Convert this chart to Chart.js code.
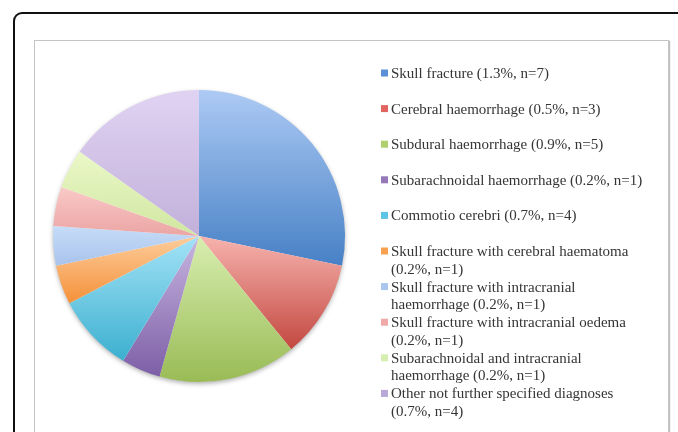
<!DOCTYPE html>
<html>
<head>
<meta charset="utf-8">
<script src="https://cdn.jsdelivr.net/npm/chart.js@4.4.1/dist/chart.umd.min.js"></script>
<style>
    html, body { margin: 0; padding: 0; background: #fff; }
    body { width: 678px; height: 432px; overflow: hidden; position: relative; }
    #frame { position: absolute; left: 13px; top: 12px; width: 700px; height: 460px; border: 2px solid #111; border-radius: 9px; }
    #plot { position: absolute; left: 34px; top: 40px; width: 633px; height: 440px; border: 1px solid #c4c4c4; box-shadow: 1px 1px 1px rgba(0,0,0,0.25); }
    #wrap { position: absolute; left: 0; top: 0; width: 678px; height: 432px; }
</style>
</head>
<body>
<div id="frame"></div>
<div id="plot"></div>
<div id="wrap"><canvas id="diagChart"></canvas></div>
<script>
// Diagnosis categories and their shares
const categories = [
    'Skull fracture',
    'Cerebral haemorrhage',
    'Subdural haemorrhage',
    'Subarachnoidal haemorrhage',
    'Commotio cerebri',
    'Skull fracture with cerebral haematoma',
    'Skull fracture with intracranial haemorrhage',
    'Skull fracture with intracranial oedema',
    'Subarachnoidal and intracranial haemorrhage',
    'Other not further specified diagnoses'
];
const percents = [1.3, 0.5, 0.9, 0.2, 0.7, 0.2, 0.2, 0.2, 0.2, 0.7];
const counts = [7, 3, 5, 1, 4, 1, 1, 1, 1, 4];
// slice sizes as they are drawn in the figure
const sliceValues = [6.5, 2.5, 3.5, 1, 2, 1, 1, 1, 1, 3.5];

// gradient colours per slice (top -> bottom of each slice)
const lightColors = ['#adcaf4', '#f7b3ae', '#d8eeb0', '#c8b6e0', '#a4e3f7', '#fccd9c', '#c6dcf8', '#fac9c7', '#eaf8c8', '#e0d3f2'];
const darkColors = ['#4680c5', '#c2473f', '#99bb55', '#7c5ea6', '#3bafcf', '#f59038', '#a8c2ea', '#eaa4a3', '#d0e6a0', '#c2b0da'];
const keyColors = ['#5b8fd6', '#e06561', '#b0d070', '#9478b8', '#5cc5e5', '#f7a050', '#a9c6ef', '#f0a9a9', '#d6eeb0', '#b8a8d8'];

function legendText(i) {
    return categories[i] + ' (' + percents[i] + '%, n=' + counts[i] + ')';
}

function sliceGradient(c) {
    const chart = c.chart;
    const area = chart.chartArea;
    const i = c.dataIndex;
    if (!area || i === undefined) return keyColors[i] || '#ccc';
    const cx = (area.left + area.right) / 2;
    const cy = (area.top + area.bottom) / 2;
    const r = Math.min(area.width, area.height) / 2;
    const total = sliceValues.reduce((a, b) => a + b, 0);
    let before = 0;
    for (let k = 0; k < i; k++) before += sliceValues[k];
    const a0 = -Math.PI / 2 + before / total * 2 * Math.PI;
    const a1 = a0 + sliceValues[i] / total * 2 * Math.PI;
    const ys = [cy, cy + r * Math.sin(a0), cy + r * Math.sin(a1)];
    [Math.PI / 2, 3 * Math.PI / 2].forEach(t => {
        if (t > a0 && t < a1) ys.push(cy + r * Math.sin(t));
    });
    const top = Math.min(...ys);
    const bottom = Math.max(...ys);
    const g = chart.ctx.createLinearGradient(0, top, 0, bottom + 1);
    g.addColorStop(0, lightColors[i]);
    g.addColorStop(1, darkColors[i]);
    return g;
}

// soft shadow under the pie
const pieShadow = {
    id: 'pieShadow',
    beforeDatasetsDraw(chart) {
        const arc = chart.getDatasetMeta(0).data[0];
        if (!arc) return;
        const ctx = chart.ctx;
        ctx.save();
        ctx.shadowColor = 'rgba(0,0,0,0.35)';
        ctx.shadowBlur = 5;
        ctx.shadowOffsetY = 2;
        ctx.beginPath();
        ctx.arc(arc.x, arc.y, arc.outerRadius - 0.5, 0, Math.PI * 2);
        ctx.fillStyle = '#fff';
        ctx.fill();
        ctx.restore();
    }
};

// legend on the right, with wrapped lines
const sideLegend = {
    id: 'sideLegend',
    afterDraw(chart) {
        const ctx = chart.ctx;
        const maxW = 262;
        ctx.save();
        ctx.font = '15px "Liberation Serif"';
        ctx.textBaseline = 'middle';
        chart.data.labels.forEach((lbl, i) => {
            const y = 73 + i * 35.6;
            ctx.fillStyle = keyColors[i];
            ctx.fillRect(381, y - 3.5, 7, 7);
            const words = legendText(i).split(' ');
            const lines = [];
            let line = '';
            words.forEach(w => {
                const test = line ? line + ' ' + w : w;
                if (ctx.measureText(test).width > maxW && line) {
                    lines.push(line);
                    line = w;
                } else {
                    line = test;
                }
            });
            lines.push(line);
            ctx.fillStyle = '#353535';
            lines.forEach((t, j) => ctx.fillText(t, 391, y + 1 + j * 17.6));
        });
        ctx.restore();
    }
};

document.addEventListener('DOMContentLoaded', function () {
    const ctx = document.getElementById('diagChart');
    new Chart(ctx, {
        type: 'pie',
        data: {
            labels: categories,
            datasets: [{
                data: sliceValues,
                backgroundColor: sliceGradient,
                borderWidth: 0,
                hoverOffset: 0
            }]
        },
        options: {
            responsive: true,
            maintainAspectRatio: false,
            animation: false,
            layout: { padding: { left: 53, right: 333, top: 90, bottom: 50 } },
            plugins: {
                legend: { display: false },
                tooltip: { enabled: false }
            }
        },
        plugins: [pieShadow, sideLegend]
    });
});
</script>
</body>
</html>
